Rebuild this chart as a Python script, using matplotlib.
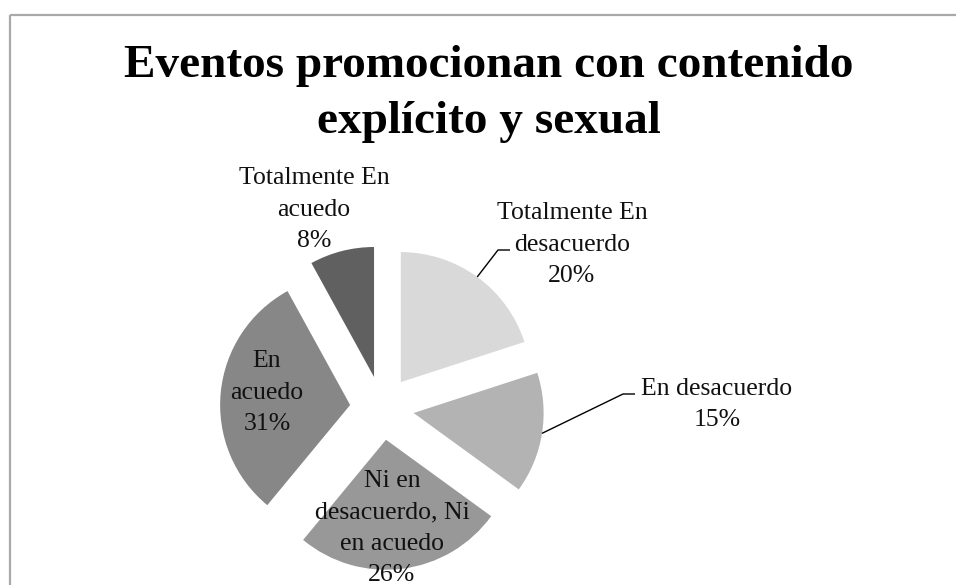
import numpy as np
import matplotlib
matplotlib.use("Agg")
import matplotlib.pyplot as plt
from matplotlib.patches import Rectangle

# Survey answers and their shares (percent), in drawing order (clockwise from 12 o'clock)
categories = [
    "Totalmente En desacuerdo",
    "En desacuerdo",
    "Ni en desacuerdo, Ni en acuedo",
    "En acuedo",
    "Totalmente En acuedo",
]
values = [20, 15, 26, 31, 8]
wrapped_names = [
    "Totalmente En\ndesacuerdo",
    "En desacuerdo",
    "Ni en\ndesacuerdo, Ni\nen acuedo",
    "En\nacuedo",
    "Totalmente En\nacuedo",
]
title = "Eventos promocionan con contenido\nexplícito y sexual"

# Styling / layout (pixel space, y grows downward)
colors = ["#d9d9d9", "#b3b3b3", "#989898", "#878787", "#606060"]
W, H = 956, 585
pie_center = (382, 408)
pie_radius = 130
explode_dist = 32
# (x centre, baseline of the last line) for each label
label_pos = [(572, 282), (717, 426), (392, 581), (267, 430), (314, 247)]
# leader elbows for labels placed outside their slice (None = label sits on slice)
leader_elbow = [((498, 250), (510, 250)), ((623, 394), (635, 394)), None, None, None]

plt.rcParams["font.family"] = ["Liberation Serif", "DejaVu Serif"]

fig = plt.figure(figsize=(W / 100, H / 100), dpi=100)
ax = fig.add_axes([0, 0, 1, 1])

wedges, _ = ax.pie(
    values,
    colors=colors,
    startangle=-90,          # y axis is flipped below, so -90 points up
    counterclock=True,       # counter-clockwise in data = clockwise on screen
    radius=pie_radius,
    center=pie_center,
    explode=[explode_dist] * len(values),
    wedgeprops=dict(linewidth=0),
    frame=False,
)

ax.set_xlim(0, W)
ax.set_ylim(H, 0)
ax.set_aspect("equal")
ax.axis("off")

# chart frame (extends past the right and bottom edges)
ax.add_patch(Rectangle((10.5, 15), 2000, 2000, fill=False,
                       edgecolor="#a9a9a9", linewidth=1.6, zorder=0))

# title
ax.text(489, 133, title, ha="center", va="baseline", ma="center",
        fontsize=34, fontweight="bold", linespacing=1.45, color="black")

# data labels with leader lines
for w, name, v, pos, elbow in zip(wedges, wrapped_names, values, label_pos, leader_elbow):
    ax.text(pos[0], pos[1], f"{name}\n{v}%", ha="center", va="baseline",
            ma="center", fontsize=18.5, linespacing=1.55, color="#111111")
    if elbow is not None:
        mid = np.deg2rad((w.theta1 + w.theta2) / 2)
        cx, cy = w.center
        start = (cx + w.r * np.cos(mid), cy + w.r * np.sin(mid))
        xs = [start[0], elbow[0][0], elbow[1][0]]
        ys = [start[1], elbow[0][1], elbow[1][1]]
        ax.plot(xs, ys, color="black", linewidth=1.0, solid_capstyle="butt")

fig.savefig("out.png", dpi=100, facecolor="white")
